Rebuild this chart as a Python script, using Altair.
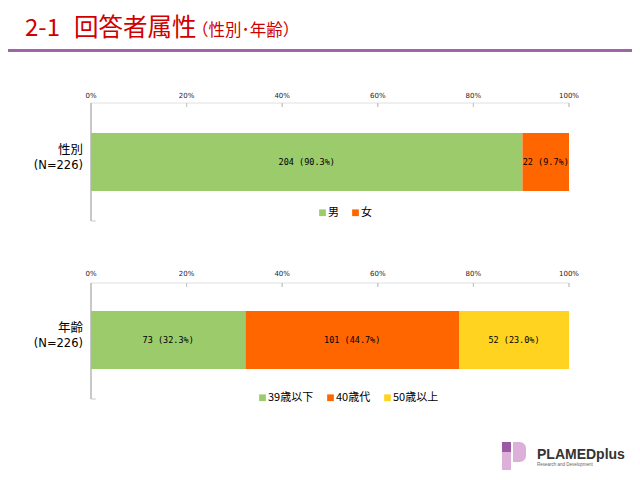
import altair as alt
import pandas as pd

# ---- data ----
panels = ["性別", "年齢"]
panel_n = [226, 226]
sex_cats = ["男", "女"]
sex_counts = [204, 22]
age_cats = ["39歳以下", "40歳代", "50歳以上"]
age_counts = [73, 101, 52]
tick_vals = [0, 0.2, 0.4, 0.6, 0.8, 1.0]
tick_labels = ["0%", "20%", "40%", "60%", "80%", "100%"]

sex_colors = ["#9BCB6A", "#FF6600"]
age_colors = ["#9BCB6A", "#FF6600", "#FFD320"]
RED = "#D00000"
JP = "Noto Sans CJK JP"


def segs(panel, cats, counts):
    total = sum(counts)
    rows, cum = [], 0
    for c, n in zip(cats, counts):
        rows.append(dict(panel=panel, cat=c, start=cum / total, end=(cum + n) / total,
                         mid=(cum + n / 2) / total,
                         label=f"{n} ({n / total * 100:.1f}%)"))
        cum += n
    return pd.DataFrame(rows)


sex_df = segs(panels[0], sex_cats, sex_counts)
age_df = segs(panels[1], age_cats, age_counts)
ylab_df = pd.DataFrame({"panel": panels,
                        "l1": panels,
                        "l2": [f"(N={n})" for n in panel_n]})
tick_df = pd.DataFrame([dict(panel=p, t=v, lab=l) for p in panels
                        for v, l in zip(tick_vals, tick_labels)])
edge_df = pd.DataFrame({"t0": [tick_vals[0]], "t1": [tick_vals[-1]], "t2": [0.01]})

xs = alt.Scale(domain=[0, 1], range=[83, 561], nice=False, zero=False)
ys = alt.Scale(domain=panels, range=[125, 361], paddingInner=0.674157, paddingOuter=0)


def X(f):
    return alt.X(f, type="quantitative", scale=xs, axis=None)


Y = alt.Y("panel:N", scale=ys, axis=None)

leg_kw = dict(orient="none", direction="horizontal", title=None,
              symbolType="square", symbolSize=45, symbolStrokeWidth=0,
              labelFont=JP, labelFontSize=11, labelColor="#000",
              columnPadding=11, labelOffset=0)

# ---- bars ----
sex_bar = alt.Chart(sex_df).mark_bar().encode(
    x=X("start"), x2="end", y=Y,
    color=alt.Color("cat:N", scale=alt.Scale(domain=sex_cats, range=sex_colors),
                    legend=alt.Legend(legendX=309, legendY=199, **leg_kw)))
age_bar = alt.Chart(age_df).mark_bar().encode(
    x=X("start"), x2="end", y=Y,
    fill=alt.Fill("cat:N", scale=alt.Scale(domain=age_cats, range=age_colors),
                  legend=alt.Legend(legendX=249, legendY=384, **leg_kw)))

lab_kw = dict(font="DejaVu Sans Mono", fontSize=8.5, color="#000", baseline="middle")
sex_lab = alt.Chart(sex_df).mark_text(**lab_kw).encode(x=X("mid"), y=Y, text="label:N")
age_lab = alt.Chart(age_df).mark_text(**lab_kw).encode(x=X("mid"), y=Y, text="label:N")

# category labels on the left (two lines)
ylab1 = alt.Chart(ylab_df).mark_text(font=JP, fontSize=12.5, align="right",
                                     baseline="middle", dy=-12, color="#000").encode(
    x=alt.value(75), y=Y, text="l1:N")
ylab2 = alt.Chart(ylab_df).mark_text(font="DejaVu Sans", fontSize=11.5, align="right",
                                     baseline="middle", dy=4, color="#000").encode(
    x=alt.value(75), y=Y, text="l2:N")

# tick labels
tick_txt = alt.Chart(tick_df).mark_text(font="DejaVu Sans", fontSize=7, color="#222",
                                        baseline="middle", dy=-66).encode(
    x=X("t"), y=Y, text="lab:N")

GRAY = "#C8C8C8"
frame = []
for top, bottom in [(95, 213), (275, 391)]:
    frame.append(alt.Chart(edge_df).mark_rule(color="#E0E0E0", strokeWidth=1).encode(
        x=X("t0"), x2="t1", y=alt.value(top)))
    frame.append(alt.Chart(tick_df[tick_df["t"] > 0]).mark_rule(color=GRAY, strokeWidth=1).encode(
        x=X("t"), y=alt.value(top), y2=alt.value(top + 4)))
    frame.append(alt.Chart(edge_df).mark_rule(color=GRAY, strokeWidth=2).encode(
        x=X("t0"), y=alt.value(top), y2=alt.value(bottom)))
    frame.append(alt.Chart(edge_df).mark_rule(color=GRAY, strokeWidth=1).encode(
        x=X("t0"), x2="t2", y=alt.value(bottom)))

# ---- header ----
one = pd.DataFrame({"a": [0]})
title1 = alt.Chart(one).mark_text(text="2-1", font=JP, fontSize=24, color=RED,
                                  align="left", baseline="alphabetic").encode(
    x=alt.value(17), y=alt.value(27.5))
title2 = alt.Chart(one).mark_text(text="回答者属性", font=JP, fontSize=24.5, color=RED,
                                  align="left", baseline="alphabetic").encode(
    x=alt.value(66), y=alt.value(27.5))
title3 = alt.Chart(one).mark_text(text="（性別･年齢）", font=JP, fontSize=16.5, color=RED,
                                  align="left", baseline="alphabetic").encode(
    x=alt.value(184), y=alt.value(28))
hline = alt.Chart(one).mark_rule(color="#A064A8", strokeWidth=3).encode(
    x=alt.value(0), x2=alt.value(624), y=alt.value(42.5))

# ---- logo ----
logo_sq = alt.Chart(one).mark_rect(color="#9B5BA3").encode(
    x=alt.value(494), x2=alt.value(503), y=alt.value(434), y2=alt.value(444))
logo_stem = alt.Chart(one).mark_rect(color="#DCB0D8").encode(
    x=alt.value(494), x2=alt.value(503), y=alt.value(444), y2=alt.value(462))
logo_bowl = alt.Chart(one).mark_rect(color="#DCB0D8", cornerRadiusTopRight=8,
                                     cornerRadiusBottomRight=8).encode(
    x=alt.value(505), x2=alt.value(518), y=alt.value(434), y2=alt.value(454))
logo_txt = alt.Chart(one).mark_text(text="PLAMEDplus", font="Liberation Sans",
                                    fontWeight="bold", fontSize=14, color="#333",
                                    align="left", baseline="alphabetic").encode(
    x=alt.value(529), y=alt.value(451))
logo_sub = alt.Chart(one).mark_text(text="Research and Development", font="Liberation Sans",
                                    fontSize=4.5, color="#666",
                                    align="left", baseline="alphabetic").encode(
    x=alt.value(529), y=alt.value(458))

chart = alt.layer(
    *frame, sex_bar, age_bar, sex_lab, age_lab, ylab1, ylab2, tick_txt,
    title1, title2, title3, hline, logo_sq, logo_stem, logo_bowl, logo_txt, logo_sub
).properties(
    width=624, height=464, autosize=alt.AutoSizeParams(type="none"), padding=0,
    background="white"
).configure_view(stroke=None)

chart.save("out.html", embed_options={"renderer": "svg", "actions": False})
